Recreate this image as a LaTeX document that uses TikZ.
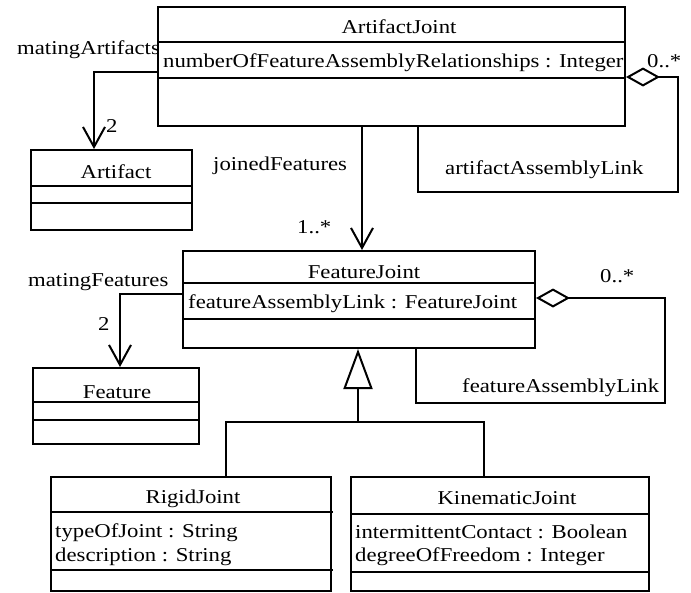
\documentclass[tikz,border=0pt]{standalone}
\usepackage{fontspec}
\setmainfont{Liberation Serif}[FakeStretch=1.16]
\usetikzlibrary{arrows.meta}
\begin{document}
\begin{tikzpicture}[x=1pt,y=-1pt,
  cls/.style={draw, line width=2pt, inner sep=0pt, anchor=north west},
  txt/.style={inner sep=0pt, anchor=base west, font=\fontsize{19.6}{23}\selectfont},
  ctxt/.style={txt, anchor=base},
  link/.style={line width=2pt},
  assoc/.style={link, -{Straight Barb[length=20pt,width=22pt]}},
  agg/.style={link, {Diamond[open,length=34pt,width=19pt]}-},
  gen/.style={link, -{Triangle[open,length=40pt,width=29pt]}}]
\useasboundingbox (0,0) rectangle (691,592);

% class boxes
\node[cls, minimum width=467pt, minimum height=119pt] (aj) at (157,6) {};
\draw[link] (157,42) -- (626,42);
\draw[link] (157,78) -- (626,78);

\node[cls, minimum width=161pt, minimum height=80pt] (art) at (30,149) {};
\draw[link] (30,186) -- (193,186);
\draw[link] (30,203) -- (193,203);

\node[cls, minimum width=352pt, minimum height=97pt] (fj) at (182,250) {};
\draw[link] (182,283) -- (534,283);
\draw[link] (182,319) -- (534,319);

\node[cls, minimum width=166pt, minimum height=76pt] (feat) at (32,367) {};
\draw[link] (32,402) -- (200,402);
\draw[link] (32,420) -- (200,420);

\node[cls, minimum width=280pt, minimum height=114pt] (rj) at (50,476) {};
\draw[link] (50,512) -- (333,512);
\draw[link] (50,570) -- (333,570);

\node[cls, minimum width=298pt, minimum height=114pt] (kj) at (350,476) {};
\draw[link] (350,514) -- (650,514);
\draw[link] (350,572) -- (650,572);

% class texts
\node[ctxt] (ajname) at (399,33) {ArtifactJoint};
\node[txt] (ajattr) at (163,67) {numberOfFeatureAssemblyRelationships : Integer};
\node[ctxt] (artname) at (116,178) {Artifact};
\node[ctxt] (fjname) at (364,278) {FeatureJoint};
\node[txt] (fjattr) at (188,308) {featureAssemblyLink : FeatureJoint};
\node[ctxt] (featname) at (117,398) {Feature};
\node[ctxt] (rjname) at (193,503) {RigidJoint};
\node[txt] (rjattra) at (55,537) {typeOfJoint : String};
\node[txt] (rjattrb) at (55,561) {description : String};
\node[ctxt] (kjname) at (507,504) {KinematicJoint};
\node[txt] (kjattra) at (355,538) {intermittentContact : Boolean};
\node[txt] (kjattrb) at (355,561) {degreeOfFreedom : Integer};

% association labels
\node[txt] (lma) at (17,54) {matingArtifacts};
\node[txt] (lmam) at (106,132) {2};
\node[txt] (ljf) at (213,170) {joinedFeatures};
\node[txt] (ljfm) at (297,233) {1..*};
\node[txt] (laal) at (445,174) {artifactAssemblyLink};
\node[txt] (laalm) at (647,67) {0..*};
\node[txt] (lmf) at (28,286) {matingFeatures};
\node[txt] (lmfm) at (98,330) {2};
\node[txt] (lfal) at (462,392) {featureAssemblyLink};
\node[txt] (lfalm) at (600,282) {0..*};

% associations
\draw[assoc] ([yshift=-66pt]aj.north west) -| ([xshift=64pt]art.north west);
\draw[assoc] ([xshift=205pt]aj.south west) -- ([xshift=205pt]aj.south west |- fj.north);
\draw[assoc] ([yshift=-44pt]fj.north west) -| ([xshift=88pt]feat.north west);

% self aggregations
\coordinate (aalc) at (678,192);
\draw[agg] ([yshift=-71pt]aj.north east) -| (aalc) -| ([xshift=261pt]aj.south west);
\coordinate (falc) at (665,403);
\draw[agg] ([yshift=-48pt]fj.north east) -| (falc) -| ([xshift=234pt]fj.south west);

% generalization
\coordinate (gj) at (358,422);
\draw[gen] (gj) -- (gj |- fj.south);
\draw[link] ([xshift=176pt]rj.north west) |- (gj) -| ([xshift=134pt]kj.north west);
\end{tikzpicture}
\end{document}
